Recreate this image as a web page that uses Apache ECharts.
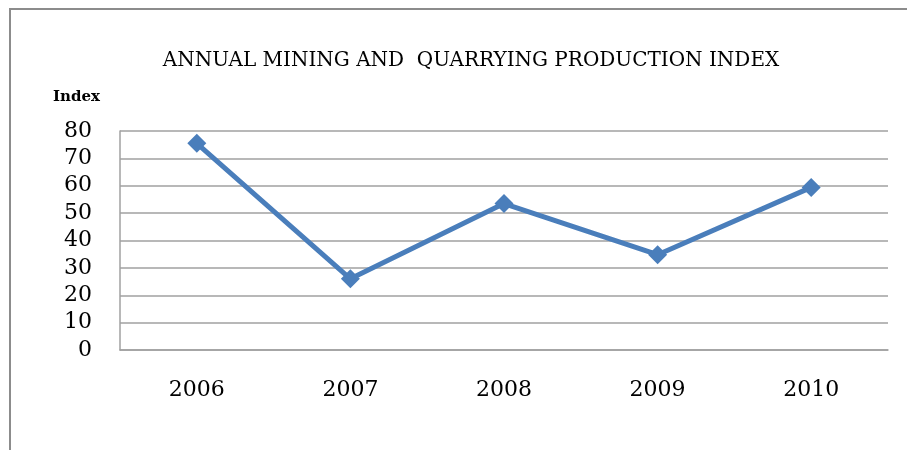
<!DOCTYPE html>
<html>
<head>
<meta charset="utf-8">
<script src="https://cdn.jsdelivr.net/npm/echarts@6/dist/echarts.min.js"></script>
<style>
  html, body { margin: 0; padding: 0; background: #fff; }
  #chart { width: 907px; height: 450px; }
</style>
</head>
<body>
<div id="chart"></div>
<script>
  var years = ["2006", "2007", "2008", "2009", "2010"];
  var indexValues = [75.5, 26, 53.5, 34.8, 59.4];
  var yTicks = { min: 0, max: 80, interval: 10 };

  var serif = "DejaVu Serif";
  var chart = echarts.init(document.getElementById("chart"));

  chart.setOption({
    backgroundColor: "#fff",
    animation: false,
    title: {
      text: "ANNUAL MINING AND  QUARRYING PRODUCTION INDEX",
      left: 466,
      top: 46,
      textAlign: "center",
      textStyle: {
        fontFamily: serif,
        fontWeight: "normal",
        fontSize: 20,
        color: "#000"
      }
    },
    graphic: [
      {
        type: "polyline",
        shape: { points: [[10, 450], [10, 9], [907, 9]] },
        style: { stroke: "#8c8c8c", lineWidth: 2, fill: null }
      }
    ],
    grid: { left: 120, right: 19, top: 131, bottom: 100, containLabel: false },
    xAxis: {
      type: "category",
      data: years,
      boundaryGap: true,
      axisLine: { show: true, lineStyle: { color: "#a0a0a0", width: 1.5 } },
      axisTick: { show: false },
      axisLabel: {
        margin: 29,
        fontFamily: serif,
        fontSize: 22,
        color: "#000"
      }
    },
    yAxis: {
      type: "value",
      min: yTicks.min,
      max: yTicks.max,
      interval: yTicks.interval,
      name: "Index",
      nameLocation: "end",
      nameGap: 26,
      nameTextStyle: {
        fontFamily: serif,
        fontWeight: "bold",
        fontSize: 15,
        color: "#000",
        align: "right",
        padding: [0, 20, 0, 0]
      },
      axisLine: { show: true, lineStyle: { color: "#a0a0a0", width: 1.5 } },
      axisTick: { show: false },
      splitLine: { show: true, lineStyle: { color: "#a0a0a0", width: 1.5 } },
      axisLabel: {
        margin: 28,
        fontFamily: serif,
        fontSize: 22,
        color: "#000"
      }
    },
    series: [
      {
        type: "line",
        data: indexValues,
        symbol: "diamond",
        symbolSize: 19,
        showAllSymbol: true,
        lineStyle: { color: "#4a7ebb", width: 5 },
        itemStyle: { color: "#4a7ebb" }
      }
    ]
  });
</script>
</body>
</html>
